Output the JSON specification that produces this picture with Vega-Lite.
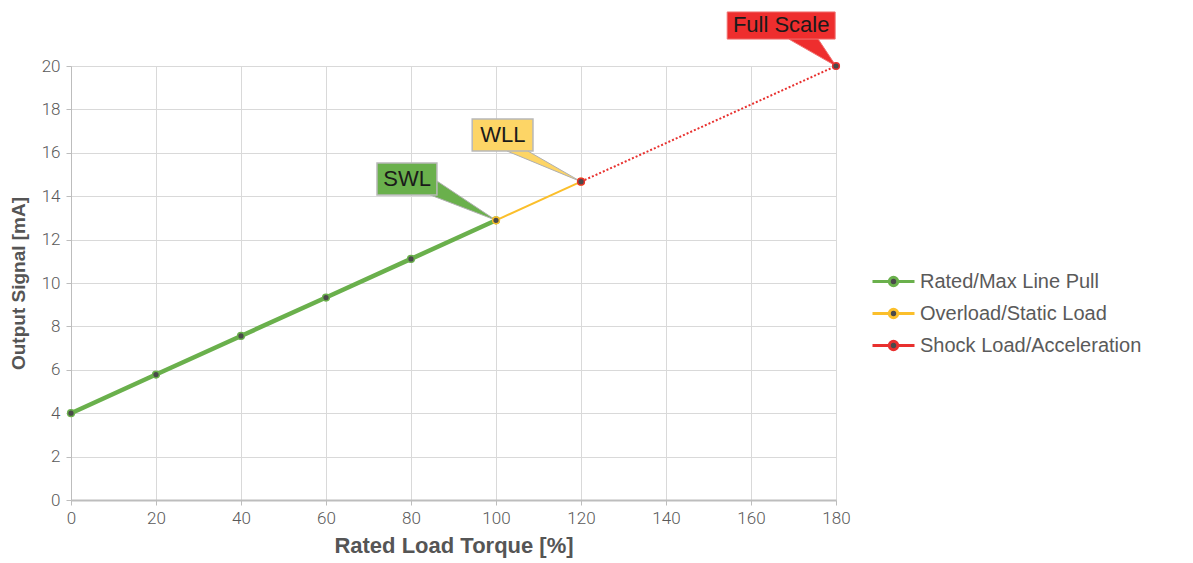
{
  "$schema": "https://vega.github.io/schema/vega-lite/v6.json",
  "width": 765,
  "height": 434,
  "autosize": {"type": "none"},
  "padding": {"left": 71, "top": 66, "right": 357, "bottom": 63},
  "background": "white",
  "config": {
    "view": {"stroke": null},
    "axis": {
      "gridColor": "#d9d9d9",
      "gridWidth": 1,
      "domainColor": "#bdbdbd",
      "tickColor": "#bdbdbd",
      "tickSize": 5,
      "labelFont": "Roboto",
      "labelFontWeight": 300,
      "labelFontSize": 17,
      "labelColor": "#595959",
      "labelFlush": false,
      "titleFont": "Liberation Sans",
      "titleFontWeight": "bold",
      "titleFontSize": 20,
      "titleColor": "#555555"
    }
  },
  "datasets": {
    "series": [
      {"torque": 0, "signal": 4.0, "series": "Rated/Max Line Pull"},
      {"torque": 20, "signal": 5.78, "series": "Rated/Max Line Pull"},
      {"torque": 40, "signal": 7.56, "series": "Rated/Max Line Pull"},
      {"torque": 60, "signal": 9.33, "series": "Rated/Max Line Pull"},
      {"torque": 80, "signal": 11.11, "series": "Rated/Max Line Pull"},
      {"torque": 100, "signal": 12.89, "series": "Rated/Max Line Pull"},
      {"torque": 100, "signal": 12.89, "series": "Overload/Static Load"},
      {"torque": 120, "signal": 14.67, "series": "Overload/Static Load"},
      {"torque": 120, "signal": 14.67, "series": "Shock Load/Acceleration"},
      {"torque": 180, "signal": 20.0, "series": "Shock Load/Acceleration"}
    ],
    "boxes": [
      {"label": "SWL", "x1": 72.0, "x2": 86.1, "y1": 14.05, "y2": 15.53, "tx": 79.1, "ty": 14.79},
      {"label": "WLL", "x1": 94.4, "x2": 108.7, "y1": 16.08, "y2": 17.56, "tx": 101.6, "ty": 16.82},
      {"label": "Full Scale", "x1": 154.4, "x2": 179.8, "y1": 21.24, "y2": 22.49, "tx": 167.1, "ty": 21.87}
    ],
    "pointers": [
      {"label": "SWL", "ord": 1, "x": 86.1, "y": 14.7},
      {"label": "SWL", "ord": 2, "x": 100, "y": 12.89},
      {"label": "SWL", "ord": 3, "x": 84.5, "y": 14.06},
      {"label": "WLL", "ord": 1, "x": 102.6, "y": 16.08},
      {"label": "WLL", "ord": 2, "x": 120, "y": 14.67},
      {"label": "WLL", "ord": 3, "x": 107.5, "y": 16.08},
      {"label": "Full Scale", "ord": 1, "x": 168.9, "y": 21.24},
      {"label": "Full Scale", "ord": 2, "x": 180, "y": 20.0},
      {"label": "Full Scale", "ord": 3, "x": 175.8, "y": 21.24}
    ]
  },
  "layer": [
    {
      "data": {"name": "series"},
      "mark": {"type": "rule", "opacity": 0},
      "encoding": {
        "x": {"field": "torque", "type": "quantitative", "scale": {"domain": [0, 180], "nice": false},
          "axis": {"values": [0, 20, 40, 60, 80, 100, 120, 140, 160, 180], "title": "Rated Load Torque [%]", "titleFontSize": 22, "titlePadding": 9, "labelPadding": 5, "domainWidth": 2}},
        "y": {"field": "signal", "type": "quantitative", "scale": {"domain": [0, 20], "nice": false},
          "axis": {"values": [0, 2, 4, 6, 8, 10, 12, 14, 16, 18, 20], "title": "Output Signal [mA]", "titleFontSize": 19, "titlePadding": 13, "labelPadding": 6}}
      }
    },
    {
      "data": {"name": "pointers"},
      "transform": [{"filter": "datum.label === 'SWL'"}],
      "mark": {"type": "line", "fill": "#6ab04c", "stroke": "#b0b0b0", "strokeWidth": 1},
      "encoding": {"x": {"field": "x", "type": "quantitative"}, "y": {"field": "y", "type": "quantitative"}, "order": {"field": "ord"}}
    },
    {
      "data": {"name": "pointers"},
      "transform": [{"filter": "datum.label === 'WLL'"}],
      "mark": {"type": "line", "fill": "#fdd566", "stroke": "#b0b0b0", "strokeWidth": 1},
      "encoding": {"x": {"field": "x", "type": "quantitative"}, "y": {"field": "y", "type": "quantitative"}, "order": {"field": "ord"}}
    },
    {
      "data": {"name": "pointers"},
      "transform": [{"filter": "datum.label === 'Full Scale'"}],
      "mark": {"type": "line", "fill": "#ee2e2e", "stroke": "#f07070", "strokeWidth": 1},
      "encoding": {"x": {"field": "x", "type": "quantitative"}, "y": {"field": "y", "type": "quantitative"}, "order": {"field": "ord"}}
    },
    {
      "data": {"name": "boxes"},
      "transform": [{"filter": "datum.label === 'SWL'"}],
      "mark": {"type": "rect", "fill": "#6ab04c", "stroke": "#b8b8b8", "strokeWidth": 1.5},
      "encoding": {"x": {"field": "x1", "type": "quantitative"}, "x2": {"field": "x2"}, "y": {"field": "y1", "type": "quantitative"}, "y2": {"field": "y2"}}
    },
    {
      "data": {"name": "boxes"},
      "transform": [{"filter": "datum.label === 'WLL'"}],
      "mark": {"type": "rect", "fill": "#fdd566", "stroke": "#b8b8b8", "strokeWidth": 1.5},
      "encoding": {"x": {"field": "x1", "type": "quantitative"}, "x2": {"field": "x2"}, "y": {"field": "y1", "type": "quantitative"}, "y2": {"field": "y2"}}
    },
    {
      "data": {"name": "boxes"},
      "transform": [{"filter": "datum.label === 'Full Scale'"}],
      "mark": {"type": "rect", "fill": "#ee2e2e", "stroke": "#f07070", "strokeWidth": 1},
      "encoding": {"x": {"field": "x1", "type": "quantitative"}, "x2": {"field": "x2"}, "y": {"field": "y1", "type": "quantitative"}, "y2": {"field": "y2"}}
    },
    {
      "data": {"name": "boxes"},
      "mark": {"type": "text", "font": "Liberation Sans", "fontSize": 22, "color": "#1a1a1a", "align": "center", "baseline": "middle"},
      "encoding": {"x": {"field": "tx", "type": "quantitative"}, "y": {"field": "ty", "type": "quantitative"}, "text": {"field": "label"}}
    },
    {
      "data": {"name": "series"},
      "transform": [{"filter": "datum.series === 'Rated/Max Line Pull'"}],
      "mark": {"type": "line", "strokeWidth": 4.5},
      "encoding": {
        "x": {"field": "torque", "type": "quantitative"},
        "y": {"field": "signal", "type": "quantitative"},
        "color": {"field": "series", "type": "nominal",
          "scale": {"domain": ["Rated/Max Line Pull", "Overload/Static Load", "Shock Load/Acceleration"], "range": ["#6ab04c", "#fbbf2b", "#e8302e"]},
          "legend": {
            "title": null, "orient": "none", "legendX": 807, "legendY": 200,
            "symbolType": "M-1.5,0H-0.3M0.3,0H1.5M-0.3,0a0.3,0.3 0 1,0 0.6,0a0.3,0.3 0 1,0 -0.6,0",
            "symbolSize": 784, "symbolStrokeWidth": 3,
            "labelFont": "Liberation Sans", "labelFontSize": 20, "labelColor": "#5a5a5a",
            "labelOffset": 11, "labelLimit": 400, "rowPadding": 6,
            "encode": {"symbols": {"update": {"fill": {"value": "#4a4a4a"}}}}
          }}
      }
    },
    {
      "data": {"name": "series"},
      "transform": [{"filter": "datum.series === 'Overload/Static Load'"}],
      "mark": {"type": "line", "strokeWidth": 2},
      "encoding": {
        "x": {"field": "torque", "type": "quantitative"},
        "y": {"field": "signal", "type": "quantitative"},
        "color": {"field": "series", "type": "nominal"}
      }
    },
    {
      "data": {"name": "series"},
      "transform": [{"filter": "datum.series === 'Shock Load/Acceleration'"}],
      "mark": {"type": "line", "strokeWidth": 2, "strokeDash": [2, 2]},
      "encoding": {
        "x": {"field": "torque", "type": "quantitative"},
        "y": {"field": "signal", "type": "quantitative"},
        "color": {"field": "series", "type": "nominal"}
      }
    },
    {
      "data": {"name": "series"},
      "mark": {"type": "circle", "size": 45, "fill": "#4a4a4a", "fillOpacity": 1, "strokeWidth": 1.5},
      "encoding": {
        "x": {"field": "torque", "type": "quantitative"},
        "y": {"field": "signal", "type": "quantitative"},
        "stroke": {"field": "series", "type": "nominal",
          "scale": {"domain": ["Rated/Max Line Pull", "Overload/Static Load", "Shock Load/Acceleration"], "range": ["#6ab04c", "#fbbf2b", "#e8302e"]},
          "legend": null}
      }
    }
  ]
}
